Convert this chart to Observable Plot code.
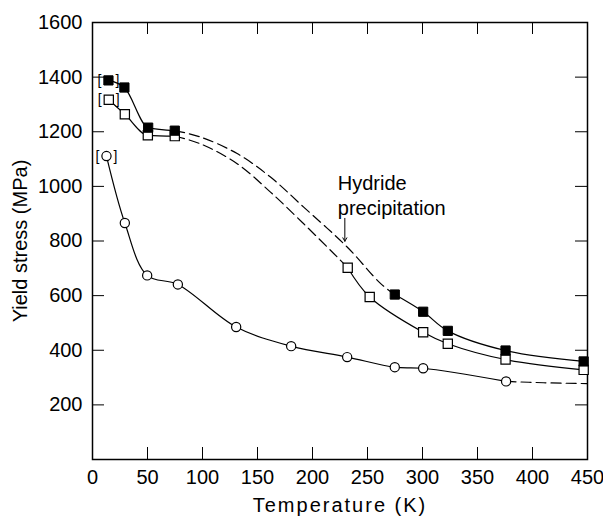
<!DOCTYPE html>
<html><head><meta charset="utf-8">
<script src="https://cdn.jsdelivr.net/npm/d3@7"></script>
<script src="https://cdn.jsdelivr.net/npm/@observablehq/plot@0.6"></script>
<style>body{margin:0;background:#fff}</style>
</head><body><div id="chart"></div>
<script>
// Tick values
const xLabelTicks = [0, 50, 100, 150, 200, 250, 300, 350, 400, 450];
const xInnerTicks = [50, 100, 150, 200, 250, 300, 350, 400];
const yLabelTicks = [200, 400, 600, 800, 1000, 1200, 1400, 1600];
const yInnerTicks = [200, 400, 600, 800, 1000, 1200, 1400];

// Filled squares
const filledT = [14.5, 29, 50.6, 74.8, 274.8, 300.6, 323, 375.5, 446.5];
const filledS = [1388, 1362, 1215, 1204, 604, 541, 471, 399, 359];
// Open squares
const openT = [14.8, 29.4, 50.3, 74.8, 232, 252, 300.6, 323, 375.5, 446.5];
const openS = [1317, 1264, 1187, 1184, 702, 595, 466, 424, 366, 328];
// Open circles
const circleT = [12.7, 29.4, 49.7, 77.6, 130.6, 180.6, 231.5, 274.8, 300.6, 376];
const circleS = [1111, 866, 674, 641, 485, 415, 375, 338, 334, 286];

// Dashed guide curves
const filledDashT = [74.8, 98, 131.5, 161.8, 192, 231.5, 262, 274.8];
const filledDashS = [1204, 1181, 1120, 1034, 924, 778, 644, 604];
const openDashT = [74.8, 98, 131.5, 161.8, 192, 225.5, 232];
const openDashS = [1184, 1156, 1083, 979, 863, 729, 702];
const circleDashT = [376, 410, 450];
const circleDashS = [286, 281, 278];

// Annotation
const annotLines = ["Hydride", "precipitation"];
const annotT = [223, 223];
const annotS = [1011, 920];
const arrowT = [229.4];
const arrowFrom = [883];
const arrowTo = [799];

const W = 603, H = 520, ML = 92, MR = 16, MT = 22, MB = 61;
const PW = W - ML - MR, PH = H - MT - MB, TL = 12;

const rows = (T, S, i0 = 0, i1 = T.length) => T.slice(i0, i1).map((t, k) => ({t, s: S[i0 + k]}));

const lineOpts = {x: "t", y: "s", curve: "catmull-rom", stroke: "black", strokeWidth: 1.2};
const lowOpts = {...lineOpts, curve: "monotone-x"};
const dashOpts = {...lineOpts, strokeDasharray: "10,5"};

const bracketPts = [rows(filledT, filledS, 0, 1)[0], rows(openT, openS, 0, 1)[0], rows(circleT, circleS, 0, 1)[0]];

const chart = Plot.plot({
  width: W, height: H,
  marginLeft: ML, marginRight: MR, marginTop: MT, marginBottom: MB,
  style: {fontFamily: "'Liberation Sans', Arial, sans-serif", fontSize: "20px", color: "black", background: "white"},
  x: {domain: [0, 450]},
  y: {domain: [0, 1600]},
  marks: [
    Plot.frame({stroke: "black", strokeWidth: 1.5}),
    Plot.tickX(xInnerTicks, {x: d => d, insetTop: PH - TL, stroke: "black"}),
    Plot.tickX(xInnerTicks, {x: d => d, insetBottom: PH - TL, stroke: "black"}),
    Plot.tickY(yInnerTicks, {y: d => d, insetRight: PW - TL, stroke: "black"}),
    Plot.tickY(yInnerTicks, {y: d => d, insetLeft: PW - TL, stroke: "black"}),
    Plot.axisX({ticks: xLabelTicks, tickSize: 0, tickPadding: 10, tickFormat: d => String(d),
      label: "Temperature (K)", labelAnchor: "center", labelOffset: 52, labelArrow: "none"}),
    Plot.axisY({ticks: yLabelTicks, tickSize: 0, tickPadding: 10, tickFormat: d => String(d),
      label: "Yield stress (MPa)", labelAnchor: "center", labelOffset: 80, labelArrow: "none"}),
    // solid curves
    Plot.line(rows(filledT, filledS, 0, 4), lowOpts),
    Plot.line(rows(filledT, filledS, 4), lineOpts),
    Plot.line(rows(openT, openS, 0, 4), lowOpts),
    Plot.line(rows(openT, openS, 4), lineOpts),
    Plot.line(rows(circleT, circleS), lineOpts),
    // dashed curves
    Plot.line(rows(filledDashT, filledDashS), dashOpts),
    Plot.line(rows(openDashT, openDashS), dashOpts),
    Plot.line(rows(circleDashT, circleDashS), dashOpts),
    // markers
    Plot.dot(rows(openT, openS), {x: "t", y: "s", symbol: "square", r: 5.2, fill: "white", stroke: "black", strokeWidth: 1.2}),
    Plot.dot(rows(filledT, filledS), {x: "t", y: "s", symbol: "square", r: 5.2, fill: "black", stroke: "black", strokeWidth: 1}),
    Plot.dot(rows(circleT, circleS), {x: "t", y: "s", r: 4.6, fill: "white", stroke: "black", strokeWidth: 1.2}),
    // brackets around the first points
    Plot.text(bracketPts, {x: "t", y: "s", text: () => "[", dx: -9, fontSize: 14, fill: "black"}),
    Plot.text(bracketPts, {x: "t", y: "s", text: () => "]", dx: 9, fontSize: 14, fill: "black"}),
    // annotation
    Plot.text(annotLines.map((l, i) => ({l, t: annotT[i], s: annotS[i]})),
      {x: "t", y: "s", text: "l", textAnchor: "start", fontSize: 20, fill: "black"}),
    Plot.arrow(arrowT.map((t, i) => ({t, a: arrowFrom[i], b: arrowTo[i]})),
      {x1: "t", x2: "t", y1: "a", y2: "b", headLength: 6, stroke: "black", strokeWidth: 1})
  ]
});
chart.querySelectorAll('[aria-label="x-axis label"] text').forEach(t => t.setAttribute("letter-spacing", "2"));
document.getElementById("chart").appendChild(chart);
</script>
</body></html>
